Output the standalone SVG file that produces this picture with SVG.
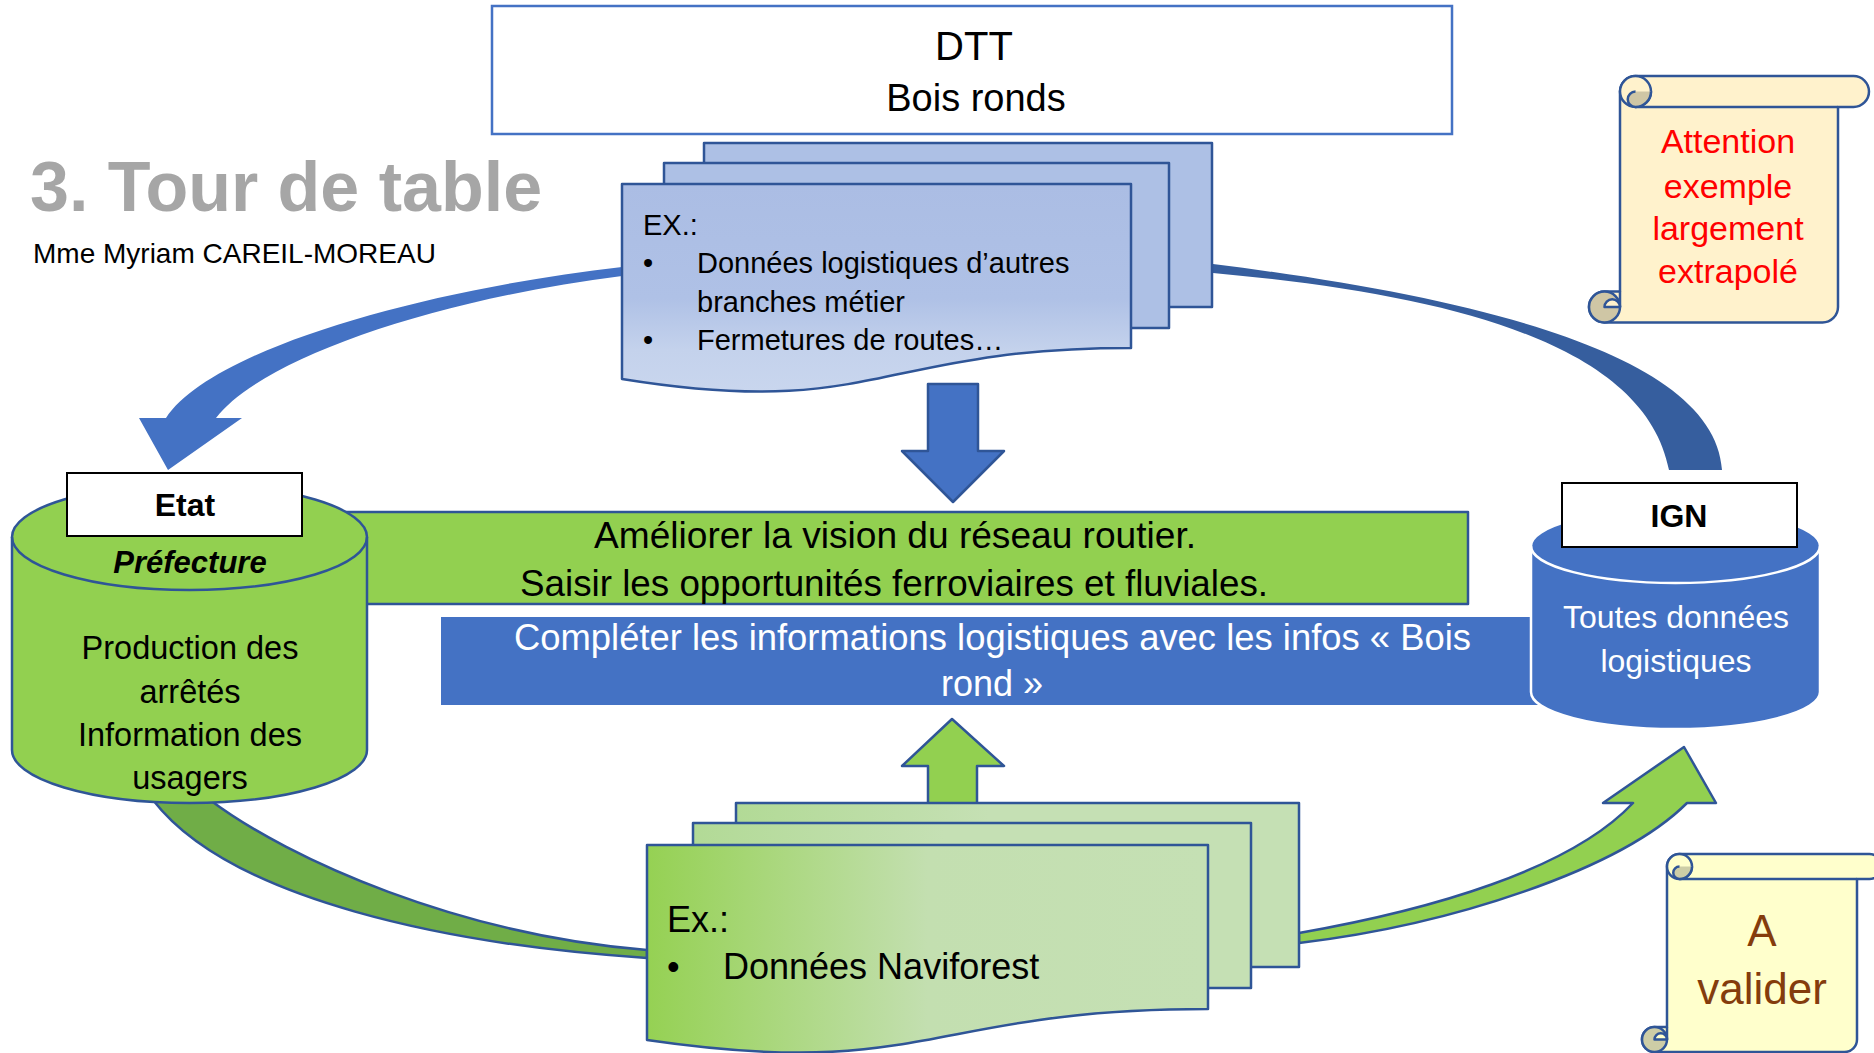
<svg xmlns="http://www.w3.org/2000/svg" width="1874" height="1053" viewBox="0 0 1874 1053">
<defs>
<style>
text{font-family:"Liberation Sans",Arial,sans-serif;fill:#000}
.bd{stroke:#2F5597;stroke-width:2.5;stroke-linejoin:round}
.doc-b{fill:#ADC0E5}
.sc1{fill:#FFF2CC}
.sc2{fill:#FFFFCC}
.tan1{fill:#CFC6A5}
.tan2{fill:#CDCDA6}
.ln{fill:none;stroke:#2F5597;stroke-width:2.5}
.lbl{font-size:32px;font-weight:bold;text-anchor:middle}
.wt{fill:#fff}
</style>
<linearGradient id="gBlue" x1="0" y1="0" x2="0" y2="1">
<stop offset="0" stop-color="#ABBDE4"/><stop offset="0.55" stop-color="#AFC1E6"/><stop offset="0.8" stop-color="#C4D2EC"/><stop offset="1" stop-color="#C9D6EE"/>
</linearGradient>
<linearGradient id="gGreen" x1="0" y1="0" x2="1" y2="0">
<stop offset="0" stop-color="#95D153"/><stop offset="0.5" stop-color="#C3DFB0"/><stop offset="1" stop-color="#C5E0B4"/>
</linearGradient>
<linearGradient id="gGreen2" x1="0" y1="0" x2="1" y2="0">
<stop offset="0" stop-color="#B2DA96"/><stop offset="0.45" stop-color="#C5E0B4"/><stop offset="1" stop-color="#C5E0B4"/>
</linearGradient>
</defs>
<rect width="1874" height="1053" fill="#fff"/>

<g id="connectors">
<path d="M622,267 C420,290 210,350 166,418 L139,418 L168,470 L242,418 L216,418 C260,360 430,300 622,276 Z" fill="#4472C4"/>
<path d="M1213,264 C1500,300 1715,360 1722,470 L1669,470 C1645,345 1455,295 1213,273 Z" fill="#365E9E"/>
<path d="M153,800 C230,900 450,945 647,958 L647,950 C460,935 290,860 210,800 Z" fill="#70AD47" class="bd" stroke-width="2"/>
<path d="M1299,933 C1430,910 1570,870 1633,803 L1603,803 L1684,747 L1716,803 L1687,803 C1620,870 1450,925 1299,943 Z" fill="#92D050" class="bd" stroke-width="2"/>
<polygon points="928,384 978,384 978,451 1004,451 953,502 902,451 928,451" fill="#4472C4" class="bd" stroke-width="2"/>
<polygon points="952,719 1004,766 977,766 977,812 928,812 928,766 902,766" fill="#92D050" class="bd" stroke-width="2"/>
</g>

<g id="title">
<text x="30" y="211" font-size="70" font-weight="bold" style="fill:#A6A6A6">3. Tour de table</text>
<text x="33" y="263" font-size="28">Mme Myriam CAREIL-MOREAU</text>
</g>

<g id="dtt">
<rect x="492" y="6" width="960" height="128" fill="#fff" stroke="#4472C4" stroke-width="2.5"/>
<text x="974" y="60" font-size="40" text-anchor="middle">DTT</text>
<text x="976" y="111" font-size="38" text-anchor="middle">Bois ronds</text>
</g>

<g id="banner-green">
<rect x="300" y="512" width="1168" height="92" fill="#92D050" class="bd"/>
<text x="895" y="548" font-size="37" text-anchor="middle" textLength="602" lengthAdjust="spacingAndGlyphs">Améliorer la vision du réseau routier.</text>
<text x="894" y="596" font-size="37" text-anchor="middle" textLength="748" lengthAdjust="spacingAndGlyphs">Saisir les opportunités ferroviaires et fluviales.</text>
</g>

<g id="banner-blue">
<rect x="441" y="617" width="1100" height="88" fill="#4472C4"/>
<text x="992.5" y="650" font-size="36" text-anchor="middle" class="wt" textLength="957" lengthAdjust="spacingAndGlyphs">Compléter les informations logistiques avec les infos « Bois</text>
<text x="992" y="696" font-size="36" text-anchor="middle" class="wt">rond »</text>
</g>

<g id="etat">
<path d="M12,537 L12,750 A177.5,53 0 0 0 367,750 L367,537 A177.5,53 0 0 0 12,537 Z" fill="#92D050" class="bd"/>
<path d="M12,537 A177.5,53 0 0 0 367,537" class="ln"/>
<rect x="67" y="473" width="235" height="63" fill="#fff" stroke="#000" stroke-width="2"/>
<text x="185" y="516" class="lbl" font-size="31">Etat</text>
<text x="190" y="573" font-size="31" font-weight="bold" font-style="italic" text-anchor="middle">Préfecture</text>
<text x="190" y="659" font-size="32.5" text-anchor="middle">Production des</text>
<text x="190" y="703" font-size="32.5" text-anchor="middle">arrêtés</text>
<text x="190" y="746" font-size="32.5" text-anchor="middle">Information des</text>
<text x="190" y="789" font-size="32.5" text-anchor="middle">usagers</text>
</g>

<g id="ign">
<path d="M1531,546 L1531,692 A144.5,37 0 0 0 1820,692 L1820,546 A144.5,37 0 0 0 1531,546 Z" fill="#4472C4" stroke="#fff" stroke-width="2.5"/>
<path d="M1531,546 A144.5,37 0 0 0 1820,546" fill="none" stroke="#fff" stroke-width="2.5"/>
<rect x="1562" y="483" width="235" height="64" fill="#fff" stroke="#000" stroke-width="2"/>
<text x="1679" y="527" class="lbl">IGN</text>
<text x="1676" y="628" font-size="32" text-anchor="middle" class="wt">Toutes données</text>
<text x="1676" y="672" font-size="32" text-anchor="middle" class="wt">logistiques</text>
</g>

<g id="docs-dtt">
<rect x="704" y="143" width="508" height="164" class="doc-b bd"/>
<rect x="664" y="163" width="505" height="165" class="doc-b bd"/>
<path d="M622,184 L1131,184 L1131,348 C876,348 876,420 622,379 Z" fill="url(#gBlue)" class="bd"/>
<text x="643" y="235" font-size="29">EX.:</text>
<text x="643" y="273" font-size="29">•</text>
<text x="697" y="273" font-size="29">Données logistiques d’autres</text>
<text x="697" y="312" font-size="29">branches métier</text>
<text x="643" y="350" font-size="29">•</text>
<text x="697" y="350" font-size="29">Fermetures de routes…</text>
</g>

<g id="docs-naviforest">
<rect x="736" y="803" width="563" height="164" fill="url(#gGreen2)" class="bd"/>
<rect x="693" y="823" width="558" height="165" fill="url(#gGreen2)" class="bd"/>
<path d="M647,845 L1208,845 L1208,1009 C927.5,1009 927.5,1081 647,1040 Z" fill="url(#gGreen)" class="bd"/>
<text x="667" y="932" font-size="36">Ex.:</text>
<text x="667" y="979" font-size="36">•</text>
<text x="723" y="979" font-size="36">Données Naviforest</text>
</g>

<g id="scroll-attention">
<path d="M1620,91.5 A15.5,15.5 0 0 1 1635.5,76 L1853.5,76 A15.5,15.5 0 0 1 1853.5,107 L1838,107 L1838,307 A15.5,15.5 0 0 1 1822.5,322.5 L1604.5,322.5 A15.5,15.5 0 0 1 1604.5,291.5 L1620,291.5 Z" class="sc1 bd"/>
<path d="M1635.5,107 L1838,107" class="ln"/>
<circle cx="1635.5" cy="91.5" r="15.5" class="sc1 bd"/>
<path d="M1635.5,91.5 L1651,91.5 A15.5,15.5 0 0 1 1635.5,107 A7.75,7.75 0 0 1 1635.5,91.5 Z" class="tan1"/>
<path d="M1651,91.5 A15.5,15.5 0 0 1 1635.5,107 A7.75,7.75 0 0 1 1635.5,91.5" class="ln"/>
<circle cx="1604.5" cy="307" r="15.5" class="tan1 bd"/>
<path d="M1604.5,307 A7.75,7.75 0 0 1 1620,307 Z" class="sc1 bd"/>
<path d="M1620,291.5 L1620,307" class="ln"/>
<text x="1728" y="153" font-size="34" text-anchor="middle" style="fill:#FF0000">Attention</text>
<text x="1728" y="198" font-size="34" text-anchor="middle" style="fill:#FF0000">exemple</text>
<text x="1728" y="240" font-size="34" text-anchor="middle" style="fill:#FF0000">largement</text>
<text x="1728" y="283" font-size="34" text-anchor="middle" style="fill:#FF0000">extrapolé</text>
</g>

<g id="scroll-valider">
<path d="M1667,866.5 A12.5,12.5 0 0 1 1679.5,854 L1869.5,854 A12.5,12.5 0 0 1 1869.5,879 L1857,879 L1857,1039.5 A12.5,12.5 0 0 1 1844.5,1052 L1654.5,1052 A12.5,12.5 0 0 1 1654.5,1027 L1667,1027 Z" class="sc2 bd"/>
<path d="M1679.5,879 L1857,879" class="ln"/>
<circle cx="1679.5" cy="866.5" r="12.5" class="sc2 bd"/>
<path d="M1679.5,866.5 L1692,866.5 A12.5,12.5 0 0 1 1679.5,879 A6.25,6.25 0 0 1 1679.5,866.5 Z" class="tan2"/>
<path d="M1692,866.5 A12.5,12.5 0 0 1 1679.5,879 A6.25,6.25 0 0 1 1679.5,866.5" class="ln"/>
<circle cx="1654.5" cy="1039.5" r="12.5" class="tan2 bd"/>
<path d="M1654.5,1039.5 A6.25,6.25 0 0 1 1667,1039.5 Z" class="sc2 bd"/>
<path d="M1667,1027 L1667,1039.5" class="ln"/>
<text x="1762" y="946" font-size="44" text-anchor="middle" style="fill:#843C0C">A</text>
<text x="1762" y="1004" font-size="44" text-anchor="middle" style="fill:#843C0C">valider</text>
</g>
</svg>
